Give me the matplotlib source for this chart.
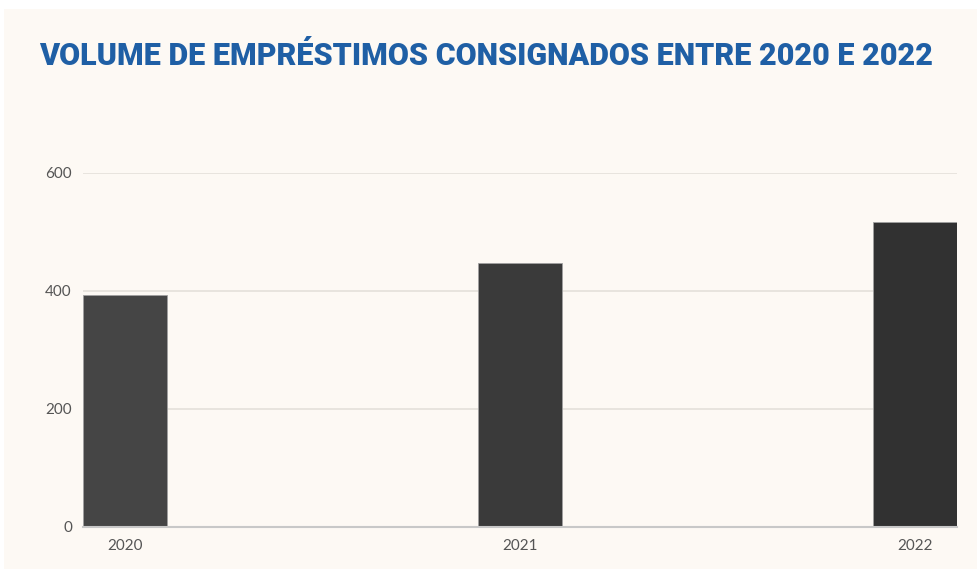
import matplotlib
matplotlib.use("Agg")
import matplotlib.pyplot as plt
from matplotlib.patches import Rectangle

categories = ["2020", "2021", "2022"]
values = [393, 447, 517]
bar_colors = ["#454545", "#3a3a3a", "#313131"]
yticks = [0, 200, 400, 600]
title = "VOLUME DE EMPRÉSTIMOS CONSIGNADOS ENTRE 2020 E 2022"

W, H = 978, 569
fig = plt.figure(figsize=(W / 100, H / 100), dpi=100, facecolor="white")
bg = "#fdf9f4"
fig.patches.append(Rectangle((4 / W, 0), 1 - 4 / W, 1 - 9 / H, transform=fig.transFigure,
                             facecolor=bg, edgecolor="none", zorder=-10))

ax = fig.add_axes([83 / W, (H - 527) / H, (957 - 83) / W, (527 - 173) / H])
ax.set_facecolor("none")
bw = 0.212
x = list(range(len(categories)))
ax.bar(x, values, width=bw, color=bar_colors, edgecolor="#a0a0a0", linewidth=0.6, zorder=3)

ax.set_xlim(-bw / 2, 2 + bw / 2)
ax.set_ylim(0, 600)
ax.set_yticks(yticks)
ax.set_yticklabels([str(v) for v in yticks])
ax.set_xticks(x)
ax.set_xticklabels(categories)
ax.grid(axis="y", color="#e4e0da", linewidth=1.2, zorder=0)
for s in ["top", "right", "left"]:
    ax.spines[s].set_visible(False)
ax.spines["bottom"].set_color("#c8c8c8")
ax.spines["bottom"].set_linewidth(1.5)
ax.spines["bottom"].set_zorder(4)
ax.tick_params(axis="both", length=0, labelsize=11, labelcolor="#555555")
ax.tick_params(axis="y", pad=8)
ax.tick_params(axis="x", pad=9)
for lab in ax.get_xticklabels() + ax.get_yticklabels():
    lab.set_family("Lato")

fig.text(486 / W, 1 - 56 / H, title, ha="center", va="center", fontsize=22,
         fontweight="heavy", color="#1f5fa5", family="Roboto")

fig.savefig("out.png", dpi=100, facecolor="white")
